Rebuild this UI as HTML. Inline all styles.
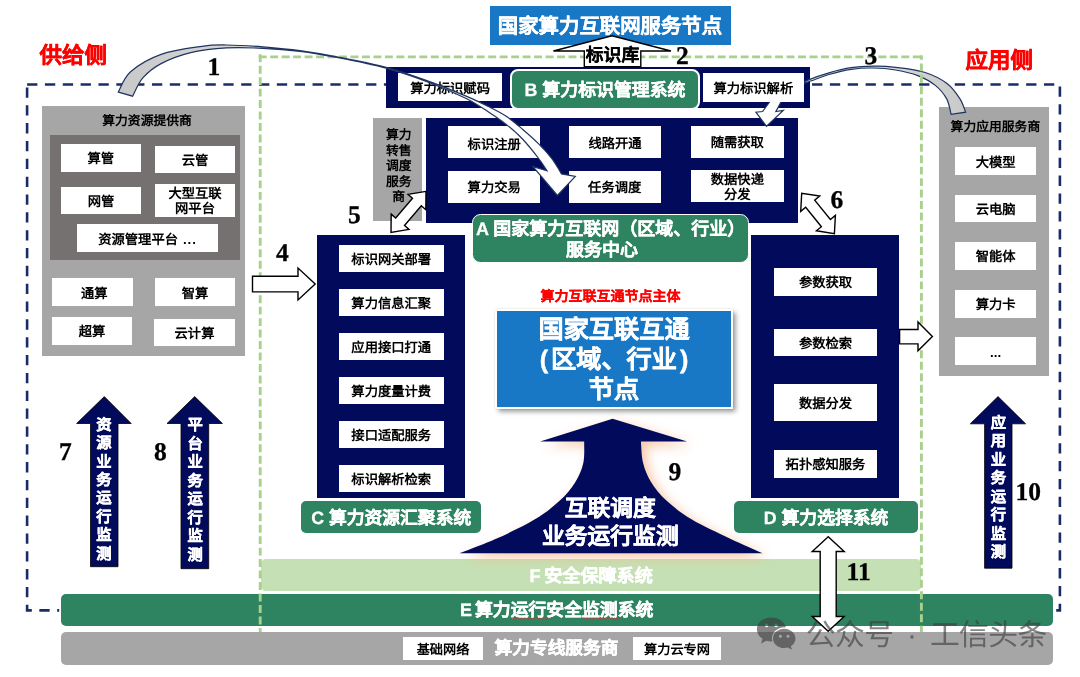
<!DOCTYPE html>
<html lang="zh-CN">
<head>
<meta charset="utf-8">
<title>国家算力互联网服务节点</title>
<style>
html,body{margin:0;padding:0;background:#fff;}
body{width:1080px;height:677px;overflow:hidden;font-family:"Liberation Sans",sans-serif;}
#stage{text-rendering:geometricPrecision;transform:translateZ(0);will-change:transform;position:relative;width:1080px;height:677px;overflow:hidden;background:#fff;font-family:"Liberation Sans",sans-serif;font-weight:bold;color:#000;}
#stage div{position:absolute;box-sizing:border-box;}
svg{position:absolute;left:0;top:0;width:1080px;height:677px;overflow:visible;}
.navy{background:#020a5c;}
.gray{background:#a6a6a6;}
.dgray{background:#767171;}
.wb{background:#fff;padding-top:2px;display:flex;align-items:center;justify-content:center;text-align:center;font-size:13.3px;line-height:15px;white-space:nowrap;}
.grn{background:#2e8361;color:#fff;-webkit-text-stroke:0.28px #fff;display:flex;align-items:center;justify-content:center;text-align:center;white-space:nowrap;}
.num{-webkit-text-stroke:0.3px #000;font-family:"Liberation Serif",serif;font-weight:bold;font-size:25.5px;line-height:24px;white-space:nowrap;}
.t{white-space:nowrap;text-align:center;-webkit-text-stroke:0.4px currentColor;}
.vt{color:#fff;font-size:15.3px;line-height:18.45px;width:28px;text-align:center;-webkit-text-stroke:0.35px #fff;}
</style>
</head>
<body>
<div id="stage">

<!-- LAYER 0: dashed frames -->
<svg id="frames" viewBox="0 0 1080 677">
  <rect x="27.1" y="84.5" width="1032.8" height="525.9" fill="none" stroke="#1a2c67" stroke-width="2.6" stroke-dasharray="10.3 7.54"/>
</svg>

<!-- supply side -->
<div class="t" style="left:37.2px;top:41.5px;width:72px;font-size:22.5px;line-height:28px;color:#ff0000;">供给侧</div>
<div class="t" style="left:963.3px;top:47.1px;width:72px;font-size:22.5px;line-height:28px;color:#ff0000;">应用侧</div>

<!-- left provider box -->
<div class="gray" style="left:42px;top:106.3px;width:202.7px;height:249.7px;"></div>
<div class="t" style="left:45.7px;top:112px;width:202.7px;font-size:12.8px;line-height:18px;-webkit-text-stroke:0;">算力资源提供商</div>
<div class="dgray" style="left:49.5px;top:135px;width:190.2px;height:125px;"></div>
<div class="wb" style="left:61px;top:143.9px;width:79.7px;height:28.1px;">算管</div>
<div class="wb" style="left:155px;top:145.6px;width:80px;height:27.7px;">云管</div>
<div class="wb" style="left:61px;top:186.6px;width:80px;height:27.6px;">网管</div>
<div class="wb" style="left:155px;top:183.6px;width:80px;height:33.4px;">大型互联<br>网平台</div>
<div class="wb" style="left:77px;top:224.3px;width:141px;height:27.7px;">资源管理平台<span style="letter-spacing:0.9px;margin-left:5px;">...</span></div>
<div class="wb" style="left:52px;top:278.3px;width:80.7px;height:27.9px;padding-left:4px;">通算</div>
<div class="wb" style="left:155px;top:278.3px;width:80px;height:27.9px;">智算</div>
<div class="wb" style="left:52px;top:317.2px;width:80px;height:27.4px;">超算</div>
<div class="wb" style="left:154px;top:318.7px;width:81px;height:27.3px;">云计算</div>

<!-- right app box -->
<div class="gray" style="left:939.4px;top:107.2px;width:109.3px;height:269.3px;"></div>
<div class="t" style="left:939.4px;top:118px;width:112px;font-size:12.8px;line-height:18px;-webkit-text-stroke:0;">算力应用服务商</div>
<div class="wb" style="left:955.2px;top:147.4px;width:80.8px;height:27.6px;">大模型</div>
<div class="wb" style="left:955.2px;top:194.6px;width:80.8px;height:27.7px;">云电脑</div>
<div class="wb" style="left:955.2px;top:242px;width:80.8px;height:27.7px;">智能体</div>
<div class="wb" style="left:955.2px;top:290px;width:80.8px;height:27.7px;">算力卡</div>
<div class="wb" style="left:955.2px;top:337px;width:80.8px;height:28.2px;">...</div>

<!-- top blue node -->
<div style="left:489.5px;top:5.5px;width:241px;height:39.7px;background:#1878c5;"></div>
<div class="t" style="left:489.5px;top:12.8px;width:241px;font-size:20.4px;line-height:28px;color:#fff;-webkit-text-stroke:0.3px #fff;">国家算力互联网服务节点</div>

<!-- B block -->
<div class="navy" style="left:386.2px;top:67px;width:424.3px;height:41px;"></div>
<div class="wb" id="wb-fuma" style="left:397.7px;top:73.3px;width:104.8px;height:27.9px;">算力标识赋码</div>


<!-- transfer scheduling vendor -->
<div class="gray" style="left:373.3px;top:118.2px;width:48.7px;height:102.5px;"></div>
<div class="t" style="left:373.3px;top:127.3px;width:50.8px;font-size:12.8px;line-height:15.4px;-webkit-text-stroke:0;">算力<br>转售<br>调度<br>服务<br>商</div>

<!-- A block -->
<div class="navy" style="left:425.6px;top:117.5px;width:372.3px;height:105.8px;"></div>
<div class="wb" style="left:448px;top:126.2px;width:92.4px;height:31.6px;padding-top:6px;">标识注册</div>
<div class="wb" style="left:568.8px;top:126.2px;width:92.4px;height:31.8px;">线路开通</div>
<div class="wb" style="left:690.8px;top:126.2px;width:93px;height:31.6px;">随需获取</div>
<div class="wb" style="left:448px;top:170.8px;width:92.4px;height:31.9px;">算力交易</div>
<div class="wb" style="left:568.8px;top:170.8px;width:91.8px;height:31.9px;">任务调度</div>
<div class="wb" style="left:691px;top:170.1px;width:92.7px;height:31.9px;line-height:15.5px;">数据快递<br>分发</div>

<svg id="arrows-mid" viewBox="0 0 1080 677">
  <defs>
    <linearGradient id="g1" gradientUnits="userSpaceOnUse" x1="118" y1="0" x2="520" y2="0"><stop offset="0" stop-color="#c9c9c9"/><stop offset="0.45" stop-color="#dcdcdc"/><stop offset="1" stop-color="#ffffff"/></linearGradient>
    <linearGradient id="g3" gradientUnits="userSpaceOnUse" x1="966" y1="0" x2="770" y2="0"><stop offset="0" stop-color="#c9c9c9"/><stop offset="0.5" stop-color="#dcdcdc"/><stop offset="1" stop-color="#ffffff"/></linearGradient>
    <filter id="glow9" x="-20%" y="-20%" width="140%" height="140%"><feGaussianBlur stdDeviation="6"/></filter>
  </defs>
  <path id="arrow3" d="M965.6 112.2 C964.7 110.0 963.1 103.7 960.0 98.9 C956.9 94.1 952.6 87.8 946.7 83.3 C940.8 78.8 932.9 74.9 924.4 72.2 C915.9 69.5 904.1 68.3 895.6 67.3 C887.1 66.3 880.7 66.1 873.3 66.2 C865.9 66.3 858.5 66.6 851.1 67.7 C843.7 68.8 836.3 70.7 828.9 72.8 C821.5 74.9 812.7 78.1 806.7 80.6 C800.7 83.1 796.6 85.6 793.0 88.0 C789.4 90.4 787.0 92.7 785.0 95.0 C783.0 97.3 781.8 100.8 781.1 101.9 L775.9 111.5 L783.3 110.4 L766.5 126.3 L755.9 112.2 L762.6 111.5 L769.6 101.9 C770.7 100.6 772.9 96.4 776.0 94.0 C779.1 91.6 782.9 89.4 788.0 87.5 C793.1 85.6 799.9 84.6 806.7 82.4 C813.5 80.2 821.5 76.7 828.9 74.5 C836.3 72.3 843.7 70.4 851.1 69.3 C858.5 68.2 865.9 67.9 873.3 68.0 C880.7 68.1 888.2 68.7 895.6 70.0 C903.0 71.3 911.1 73.0 917.8 75.6 C924.5 78.2 930.8 81.7 935.6 85.6 C940.4 89.5 944.1 94.1 946.7 98.9 C949.3 103.7 950.4 111.8 951.1 114.4 Z" fill="url(#g3)" stroke="#1f3560" stroke-width="1.2" stroke-linejoin="miter"/>
</svg>

<div class="wb" style="left:703px;top:73.3px;width:100.6px;height:28.4px;">算力标识解析</div>
<div class="grn" style="left:510.2px;top:68.6px;width:189.6px;height:41.2px;border:2px solid #fff;border-radius:8px;font-size:17.9px;">B 算力标识管理系统</div>

<!-- C block -->
<div class="navy" style="left:317.2px;top:234.8px;width:148.2px;height:263.2px;"></div>
<div class="wb" style="left:338.5px;top:244.9px;width:105.5px;height:27.5px;">标识网关部署</div>
<div class="wb" style="left:338.5px;top:288.6px;width:105.5px;height:27.6px;">算力信息汇聚</div>
<div class="wb" style="left:338.5px;top:333px;width:105.5px;height:26.8px;">应用接口打通</div>
<div class="wb" style="left:338.5px;top:377px;width:105.5px;height:26.5px;">算力度量计费</div>
<div class="wb" style="left:338.5px;top:420.5px;width:105.5px;height:27px;">接口适配服务</div>
<div class="wb" style="left:338.5px;top:464.5px;width:105.5px;height:27.1px;">标识解析检索</div>
<div class="grn" style="left:301.4px;top:501px;width:179.6px;height:32.2px;border-radius:5px;font-size:17.8px;">C 算力资源汇聚系统</div>

<!-- D block -->
<div class="navy" style="left:751px;top:234.8px;width:148.4px;height:263.2px;"></div>
<div class="wb" style="left:774px;top:268.3px;width:103px;height:27.4px;">参数获取</div>
<div class="wb" style="left:774px;top:328.5px;width:103px;height:27.9px;">参数检索</div>
<div class="wb" style="left:774px;top:384px;width:103px;height:37.3px;">数据分发</div>
<div class="wb" style="left:774px;top:450px;width:103px;height:27.5px;">拓扑感知服务</div>
<div class="grn" style="left:734.4px;top:501px;width:183.3px;height:32.2px;border-radius:5px;font-size:17.8px;">D 算力选择系统</div>

<!-- A label -->
<div class="grn" style="left:472.1px;top:214.1px;width:277px;height:49px;padding-top:3px;border:1.9px solid #fff;border-radius:8.5px;font-size:18px;line-height:21.6px;"><span>A 国家算力互联网（区域、行业）<br><span style="position:relative;left:-8.5px;">服务中心</span></span></div>

<!-- center node -->
<div class="t" style="left:530px;top:287px;width:161px;font-size:14px;line-height:18px;color:#ff0000;-webkit-text-stroke:0.15px #f00;">算力互联互通节点主体</div>
<div style="left:494.5px;top:309.4px;width:238.7px;height:99.5px;background:#1878c5;border:2.9px solid #fff;box-shadow:2.5px 2.5px 5px rgba(0,0,0,.42),0 0 2px rgba(0,0,0,.1);"></div>
<div class="t" style="left:497px;top:314.5px;width:234px;font-size:25.2px;line-height:30px;color:#fff;">国家互联互通<br><span style="margin-right:3px;">(</span>区域、行业<span style="margin-left:3px;">)</span><br>节点</div>

<!-- F / E / bottom bars -->
<div style="left:260.3px;top:557.6px;width:661.3px;height:34px;background:#c5e0b4;border:1px solid #fff;border-radius:6px;"></div>
<div class="t" style="left:520.2px;top:564.6px;width:142px;font-size:18.1px;word-spacing:-1.5px;line-height:22px;color:#fff;">F 安全保障系统</div>
<div style="left:61px;top:594px;width:992px;height:31.5px;background:#2e8361;border-radius:5px;box-shadow:0 0 0 1.8px #fff;"></div>
<div class="t" style="left:459.9px;top:598.6px;text-align:left;font-size:17.85px;word-spacing:-1.8px;line-height:22px;color:#fff;">E 算力运行安全监测系统</div>
<svg id="gframe" viewBox="0 0 1080 677">
  <g fill="none" stroke="#a9d18e" stroke-width="2.9" stroke-dasharray="7.95 3.525">
    <path d="M258.7 56.9 H922.8"/>
    <path d="M260.2 54.2 V634"/>
    <path d="M921.4 55.3 V634" stroke-dashoffset="3.4"/>
  </g>
</svg>
<div style="left:61px;top:632.2px;width:992px;height:32.6px;background:#a6a6a6;border-radius:5px;"></div>
<div class="wb" style="left:403px;top:637px;width:80px;height:23.4px;font-size:13.2px;">基础网络</div>
<div class="t" style="left:490px;top:637.3px;width:133px;font-size:17.7px;line-height:22px;color:#fff;">算力专线服务商</div>
<div class="wb" style="left:633px;top:637px;width:88px;height:23.4px;font-size:13.2px;">算力云专网</div>

<svg id="arrows-top" viewBox="0 0 1080 677">
  <path d="M612.6 418.7 L540.1 441.6 L584.2 441.6 C584.1 445.2 584.8 456.3 583.3 463.0 C581.8 469.7 579.3 475.6 575.4 481.9 C571.5 488.2 566.4 494.5 559.6 500.8 C552.8 507.1 545.0 513.3 534.5 519.6 C524.0 525.9 509.2 532.9 496.7 538.5 C484.2 544.1 465.7 550.8 459.5 553.3 L762.7 553.3 C757.2 550.8 741.5 544.1 729.7 538.5 C717.9 532.9 702.4 525.9 691.9 519.6 C681.4 513.3 673.5 507.1 666.7 500.8 C659.9 494.5 654.9 488.2 651.0 481.9 C647.1 475.6 644.8 469.7 643.1 463.0 C641.4 456.3 641.3 445.2 640.9 441.6 L687.2 441.6 Z" fill="#f4b183" opacity="0.72" filter="url(#glow9)" transform="translate(5,4)"/>
  <path id="arrow9" d="M612.6 418.7 L540.1 441.6 L584.2 441.6 C584.1 445.2 584.8 456.3 583.3 463.0 C581.8 469.7 579.3 475.6 575.4 481.9 C571.5 488.2 566.4 494.5 559.6 500.8 C552.8 507.1 545.0 513.3 534.5 519.6 C524.0 525.9 509.2 532.9 496.7 538.5 C484.2 544.1 465.7 550.8 459.5 553.3 L762.7 553.3 C757.2 550.8 741.5 544.1 729.7 538.5 C717.9 532.9 702.4 525.9 691.9 519.6 C681.4 513.3 673.5 507.1 666.7 500.8 C659.9 494.5 654.9 488.2 651.0 481.9 C647.1 475.6 644.8 469.7 643.1 463.0 C641.4 456.3 641.3 445.2 640.9 441.6 L687.2 441.6 Z" fill="#020a5c"/>
  <path id="arrow1" d="M118.3 92.1 C120.3 88.7 123.5 78.1 130.6 71.8 C137.7 65.5 149.2 58.6 161.1 54.4 C173.0 50.1 191.0 47.9 201.9 46.3 C212.8 44.7 216.1 44.9 226.3 45.0 C236.5 45.1 250.7 45.9 263.0 46.9 C275.3 47.9 287.7 49.0 300.0 50.7 C312.3 52.4 322.7 54.1 337.0 56.9 C351.3 59.7 370.6 63.3 386.0 67.4 C401.4 71.5 416.2 76.8 429.6 81.6 C443.1 86.4 456.6 92.1 466.7 96.4 C476.8 100.7 483.4 104.0 490.0 107.3 C496.6 110.6 500.8 112.6 506.2 116.2 C511.6 119.8 517.1 124.6 522.5 129.2 C527.9 133.8 533.8 139.0 538.7 143.9 C543.6 148.8 547.9 153.5 551.7 158.5 C555.5 163.5 559.9 171.3 561.5 173.9 L575.3 176.3 L557.4 195.5 L533.0 166.6 L546.9 170.7 C545.5 168.7 542.8 163.8 538.7 158.5 C534.6 153.2 527.9 144.7 522.5 139.0 C517.1 133.3 511.6 128.7 506.2 124.4 C500.8 120.1 496.6 117.3 490.0 113.0 C483.4 108.7 476.8 103.8 466.7 98.7 C456.6 93.7 443.1 87.8 429.6 82.7 C416.2 77.6 401.4 72.4 386.0 68.2 C370.6 64.0 351.3 60.3 337.0 57.5 C322.7 54.7 312.3 52.9 300.0 51.4 C287.7 49.9 275.3 48.9 263.0 48.3 C250.7 47.7 238.2 47.2 226.3 47.9 C214.4 48.6 202.6 49.8 191.7 52.4 C180.8 55.0 169.2 59.4 161.1 63.6 C152.9 67.9 147.6 72.5 142.8 77.9 C138.1 83.3 134.3 93.2 132.6 96.2 Z" fill="url(#g1)" stroke="#1f3560" stroke-width="1.2" stroke-linejoin="miter"/>
  <path d="M511.0 618.6 L512.5 617.7 L514.0 619.5 L515.5 617.7 L517.0 619.5 L518.5 617.7 L520.0 619.5 L521.5 617.7 L523.0 619.5 L524.5 617.7 L526.0 619.5 L527.5 617.7 L529.0 619.5 L530.5 617.7 L532.0 619.5 L533.5 617.7 L535.0 619.5 L536.5 617.7 L538.0 619.5 L539.5 617.7 L541.0 619.5 L542.5 617.7 L544.0 619.5 L545.5 617.7 L547.0 619.5 L548.5 617.7" fill="none" stroke="#e0312e" stroke-width="0.7"/>
  <path d="M582.8 618.6 L584.3 617.7 L585.8 619.5 L587.3 617.7 L588.8 619.5 L590.3 617.7 L591.8 619.5 L593.3 617.7 L594.8 619.5 L596.3 617.7 L597.8 619.5 L599.3 617.7 L600.8 619.5 L602.3 617.7 L603.8 619.5 L605.3 617.7 L606.8 619.5 L608.3 617.7 L609.8 619.5 L611.3 617.7 L612.8 619.5 L614.3 617.7 L615.8 619.5 L617.3 617.7 L618.8 619.5 L620.3 617.7" fill="none" stroke="#e0312e" stroke-width="0.7"/>
  <polygon id="arrow-lib" points="612,35.7 671,51 640.8,51 640.8,66.6 584.3,66.6 584.3,51 553.4,51" fill="#fff" stroke="#000" stroke-width="1.4"/>
  <polygon id="arrow4" points="252.5,276.3 298,276.3 298,268 315.2,284 298,300 298,291.9 252.5,291.9" fill="#fff" stroke="#000" stroke-width="1.4"/>
  <polygon id="arrowD" points="899.6,329.5 918,329.5 918,322 932.4,336.4 918,350.7 918,343.9 899.6,343.9" fill="#fff" stroke="#000" stroke-width="1.4"/>
  <polygon id="arrow5" points="426.0,191.4 408.0,194.4 412.5,198.3 395.7,218.0 391.2,214.1 391.0,232.4 409.0,229.4 404.5,225.5 421.3,205.8 425.8,209.7" fill="#fff" stroke="#000" stroke-width="1.4"/>
  <polygon id="arrow6" points="801.7,193.2 800.7,211.4 805.7,207.3 821.4,226.7 816.4,230.8 834.4,233.6 835.4,215.4 830.4,219.5 814.7,200.1 819.7,196.0" fill="#fff" stroke="#000" stroke-width="1.4"/>
  <polygon id="arrow11" points="828.2,536.7 812.2,551.5 820.2,551.5 820.2,616.5 812.2,616.5 828.2,631.3 844.2,616.5 836.2,616.5 836.2,551.5 844.2,551.5" fill="#fff" stroke="#000" stroke-width="1.4"/>
  <polygon id="arrow7" points="104.3,396.6 131.2,423.5 118,423.5 118,566.7 90.5,566.7 90.5,423.5 76.6,423.5" fill="#020a5c" stroke="#000" stroke-width="0.8"/>
  <polygon id="arrow8" points="194.7,396.6 222.4,423.5 208.7,423.5 208.7,568.7 181,568.7 181,423.5 167,423.5" fill="#020a5c" stroke="#000" stroke-width="0.8"/>
  <polygon id="arrow10" points="998,396.6 1025.6,423.8 1012,423.8 1012,568.2 984.6,568.2 984.6,423.8 970.3,423.8" fill="#020a5c" stroke="#000" stroke-width="0.8"/>
</svg>

<!-- arrow texts -->
<div class="t" style="left:584px;top:43.5px;width:57px;font-size:17.8px;line-height:22px;-webkit-text-stroke:0.2px #000;">标识库</div>
<div class="t" style="left:527.3px;top:493.5px;width:166px;font-size:22.8px;line-height:28.6px;color:#fff;">互联调度<br>业务运行监测</div>
<div class="vt" style="left:90px;top:416.6px;">资<br>源<br>业<br>务<br>运<br>行<br>监<br>测</div>
<div class="vt" style="left:181.2px;top:417.4px;">平<br>台<br>业<br>务<br>运<br>行<br>监<br>测</div>
<div class="vt" style="left:984.3px;top:414.8px;">应<br>用<br>业<br>务<br>运<br>行<br>监<br>测</div>

<!-- step numbers -->
<div class="num" style="left:207.6px;top:54.6px;">1</div>
<div class="num" style="left:676px;top:44px;">2</div>
<div class="num" style="left:864.6px;top:44.3px;">3</div>
<div class="num" style="left:276px;top:241px;">4</div>
<div class="num" style="left:348px;top:203px;">5</div>
<div class="num" style="left:830.4px;top:188.4px;">6</div>
<div class="num" style="left:59px;top:440.4px;">7</div>
<div class="num" style="left:154px;top:440.4px;">8</div>
<div class="num" style="left:668.4px;top:460px;">9</div>
<div class="num" style="left:1015.6px;top:480px;">10</div>
<div class="num" style="left:846.6px;top:560px;">11</div>

<!-- watermark -->
<svg id="wx" viewBox="0 0 1080 677">
  <g fill="#3c3c3c" opacity="0.62" transform="translate(756.9,617.4) scale(0.952) translate(-757.3,-617.5)">
    <path d="M772.5 617.5c-8.4 0-15.2 5.6-15.2 12.6 0 4 2.3 7.6 5.9 9.900l-1.600 5 5.700-3c1.600.4 3.300.7 5.200.7h1c-.3-1-.5-2.100-.5-3.200 0-6.500 6.200-11.700 13.900-11.700h.9c-1.400-5.900-7.700-10.300-15.300-10.300zm-5 6.500a1.900 1.900 0 1 1 0 3.800 1.900 1.900 0 0 1 0-3.800zm10 0a1.900 1.900 0 1 1 0 3.800 1.900 1.900 0 0 1 0-3.800z"/>
    <path d="M786 629.500c-6.500 0-11.800 4.500-11.800 10.100s5.300 10.100 11.800 10.100c1.300 0 2.600-.2 3.800-.5l4.400 2.400-1.200-3.900c2.900-1.800 4.800-4.700 4.800-8.100 0-5.600-5.300-10.100-11.800-10.100zm-4 6.300a1.600 1.600 0 1 1 0 3.200 1.600 1.600 0 0 1 0-3.200zm8 0a1.600 1.600 0 1 1 0 3.200 1.600 1.600 0 0 1 0-3.200z"/>
  </g>
</svg>
<div class="t" style="left:805.8px;top:618px;font-size:29.8px;letter-spacing:-0.6px;line-height:36px;font-weight:normal;-webkit-text-stroke:0;color:rgba(60,60,60,.62);text-align:left;">公众号<span style="display:inline-block;width:36.5px;text-align:center;">·</span>工信头条</div>

</div>
</body>
</html>
